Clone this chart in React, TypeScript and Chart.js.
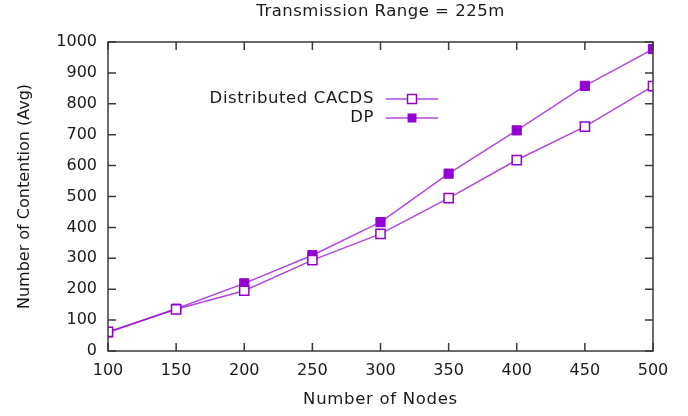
import React, { useEffect, useRef } from "react";
import { Chart, registerables } from "chart.js";

Chart.register(...registerables);

const nodes = [100, 150, 200, 250, 300, 350, 400, 450, 500];
const cacds = [62, 135, 195, 294, 379, 495, 618, 726, 857];
const dp = [60, 137, 219, 310, 417, 574, 714, 858, 977];
const xTicks = [100, 150, 200, 250, 300, 350, 400, 450, 500];
const yTicks = [0, 100, 200, 300, 400, 500, 600, 700, 800, 900, 1000];

const FONT = "DejaVu Sans";
const PURPLE = "#9400d3";
const LINE = "rgba(148,0,211,0.72)";
const FRAME = "#3a3a3a";
const TEXT = "#1a1a1a";

const framePlugin = {
  id: "gnuFrame",
  afterDatasetsDraw(chart: any) {
    const { ctx, chartArea } = chart;
    const { left, right, top, bottom } = chartArea;
    const xs = chart.scales.x;
    const ys = chart.scales.y;
    ctx.save();
    ctx.strokeStyle = FRAME;
    ctx.lineWidth = 1.5;
    ctx.strokeRect(left, top, right - left, bottom - top);
    const tl = 8;
    ctx.beginPath();
    xTicks.forEach((v) => {
      const px = xs.getPixelForValue(v);
      ctx.moveTo(px, bottom);
      ctx.lineTo(px, bottom - tl);
      ctx.moveTo(px, top);
      ctx.lineTo(px, top + tl);
    });
    yTicks.forEach((v) => {
      const py = ys.getPixelForValue(v);
      ctx.moveTo(left, py);
      ctx.lineTo(left + tl, py);
      ctx.moveTo(right, py);
      ctx.lineTo(right - tl, py);
    });
    ctx.stroke();

    // title
    ctx.fillStyle = TEXT;
    ctx.font = `16.5px "${FONT}"`;
    ctx.textAlign = "center";
    ctx.textBaseline = "middle";
    ctx.letterSpacing = "0.5px";
    ctx.fillText("Transmission Range = 225m", (left + right) / 2, 12);

    // x axis title
    ctx.letterSpacing = "0.7px";
    ctx.fillText("Number of Nodes", (left + right) / 2, 400);

    // legend
    ctx.letterSpacing = "0.6px";
    const entries = [
      { label: "Distributed CACDS", y: 99, filled: false },
      { label: "DP", y: 118, filled: true },
    ];
    entries.forEach((e) => {
      ctx.fillStyle = TEXT;
      ctx.textAlign = "right";
      ctx.textBaseline = "middle";
      ctx.fillText(e.label, 374, e.y);
      ctx.strokeStyle = LINE;
      ctx.lineWidth = 1.5;
      ctx.beginPath();
      ctx.moveTo(386, e.y);
      ctx.lineTo(438, e.y);
      ctx.stroke();
      const s = 9;
      if (e.filled) {
        ctx.fillStyle = PURPLE;
        ctx.fillRect(412 - s / 2, e.y - s / 2, s, s);
      } else {
        ctx.fillStyle = "#fff";
        ctx.fillRect(412 - s / 2, e.y - s / 2, s, s);
        ctx.strokeStyle = PURPLE;
        ctx.lineWidth = 1.5;
        ctx.strokeRect(412 - s / 2, e.y - s / 2, s, s);
      }
    });
    ctx.restore();
  },
};

export default function App() {
  const ref = useRef<HTMLCanvasElement>(null);
  useEffect(() => {
    document.body.style.margin = "0";
    if (!ref.current) return;
    const chart = new Chart(ref.current, {
      type: "line",
      data: {
        labels: nodes,
        datasets: [
          {
            label: "Distributed CACDS",
            data: nodes.map((n, i) => ({ x: n, y: cacds[i] })),
            borderColor: LINE,
            borderWidth: 1.5,
            pointStyle: "rect",
            pointRadius: 6.5,
            pointBorderWidth: 1.5,
            pointBorderColor: PURPLE,
            pointBackgroundColor: "#ffffff",
            tension: 0,
          },
          {
            label: "DP",
            data: nodes.map((n, i) => ({ x: n, y: dp[i] })),
            borderColor: LINE,
            borderWidth: 1.5,
            pointStyle: "rect",
            pointRadius: 6.5,
            pointBorderWidth: 1,
            pointBorderColor: PURPLE,
            pointBackgroundColor: PURPLE,
            tension: 0,
          },
        ],
      },
      options: {
        animation: false,
        responsive: false,
        maintainAspectRatio: false,
        layout: { padding: { top: 42, right: 35, left: 0, bottom: 0 } },
        plugins: { legend: { display: false }, title: { display: false }, tooltip: { enabled: false } },
        scales: {
          x: {
            type: "linear",
            min: 100,
            max: 500,
            afterFit: (s: any) => { s.height = 65; },
            afterBuildTicks: (s: any) => { s.ticks = xTicks.map((v) => ({ value: v })); },
            grid: { display: false, drawTicks: false },
            border: { display: false },
            ticks: { color: TEXT, font: { family: FONT, size: 16 }, padding: 10, callback: (v: any) => String(v) },
            title: { display: false },
          },
          y: {
            type: "linear",
            min: 0,
            max: 1000,
            afterFit: (s: any) => { s.width = 108; },
            afterBuildTicks: (s: any) => { s.ticks = yTicks.map((v) => ({ value: v })); },
            grid: { display: false, drawTicks: false },
            border: { display: false },
            ticks: { color: TEXT, font: { family: FONT, size: 16 }, padding: 11, callback: (v: any) => String(v) },
            title: { display: true, text: "Number of Contention (Avg)", color: TEXT, font: { family: FONT, size: 16 }, padding: { top: 15 } },
          },
        },
      },
      plugins: [framePlugin],
    });
    return () => chart.destroy();
  }, []);
  return (
    <div style={{ width: 688, height: 416 }}>
      <canvas ref={ref} width={688} height={416} style={{ display: "block" }} />
    </div>
  );
}
